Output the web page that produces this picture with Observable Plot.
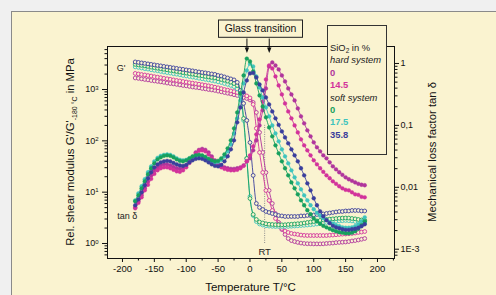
<!DOCTYPE html>
<html><head><meta charset="utf-8">
<script src="https://cdn.jsdelivr.net/npm/d3@7"></script>
<script src="https://cdn.jsdelivr.net/npm/@observablehq/plot@0.6"></script>
<style>
html,body{margin:0;padding:0;background:#f0f0f0;}
#wrap{position:relative;width:496px;height:295px;overflow:hidden;background:#f0f0f0;font-family:"Liberation Sans",Arial,sans-serif;}
#panel{position:absolute;left:11px;top:11px;width:600px;height:400px;background:#faf3d0;border:1px solid #8a8a8a;}
.layer{position:absolute;left:0;top:0;}
#legend{position:absolute;left:327px;top:25px;width:56px;height:112px;padding:16px 0 0 2px;border:1px solid #333;background:#faf3d0;font-size:9.4px;line-height:12.4px;color:#222;}
#legend .b{font-weight:bold;}
#legend sub{font-size:6.5px;vertical-align:-2px;line-height:0;}
</style></head>
<body><div id="wrap"><div id="panel"></div></div>
<script>
// ---- data ----
const temps = [-180,-175,-170,-165,-160,-155,-150,-145,-140,-135,-130,-125,-120,-115,-110,-105,-100,-95,-90,-85,-80,-75,-70,-65,-60,-55,-50,-45,-40,-35,-30,-25,-20,-15,-10,-5,0,5,10,15,20,25,30,35,40,45,50,55,60,65,70,75,80,85,90,95,100,105,110,115,120,125,130,135,140,145,150,155,160,165,170,175,180];

// Relative shear modulus G' (left axis, MPa)
const gHard0 = [1680,1650,1610,1570,1540,1500,1470,1440,1410,1380,1340,1310,1290,1260,1230,1200,1180,1150,1120,1100,1080,1050,1030,1000,982,960,930,902,874,847,821,792,767,733,701,670,627,561,358,146,59.4,24.2,10.8,6.02,3.84,2.57,1.87,1.50,1.25,1.14,1.09,1.05,1.02,1.00,0.99,0.987,0.982,0.982,0.982,0.987,1.00,1.01,1.02,1.04,1.05,1.06,1.07,1.09,1.12,1.14,1.17,1.21,1.25];
const gHard145 = [2060,2010,1960,1920,1870,1830,1780,1740,1700,1650,1620,1580,1540,1500,1470,1430,1400,1360,1330,1300,1270,1240,1210,1180,1150,1110,1080,1040,1000,973,939,910,877,839,802,750,686,513,175,59.4,24.2,10.8,6.89,4.40,3.07,2.35,1.96,1.75,1.64,1.57,1.53,1.50,1.46,1.44,1.43,1.43,1.43,1.43,1.43,1.43,1.43,1.45,1.46,1.48,1.50,1.52,1.53,1.55,1.57,1.60,1.64,1.67,1.71];
const gSoft0 = [3090,3020,2950,2890,2820,2730,2670,2600,2540,2480,2420,2360,2310,2250,2190,2140,2090,2040,1990,1940,1890,1850,1800,1760,1720,1680,1630,1570,1520,1460,1390,1310,1200,877,273,45.4,7.54,3.68,2.94,2.62,2.51,2.42,2.37,2.35,2.32,2.31,2.31,2.32,2.35,2.37,2.40,2.43,2.45,2.51,2.57,2.62,2.68,2.75,2.81,2.87,2.94,2.98,3.02,3.06,3.10,3.13,3.14,3.13,3.07,3.02,2.94,2.87,2.81];
const gSoft175 = [2760,2700,2630,2550,2500,2430,2370,2320,2250,2190,2140,2090,2030,1990,1940,1880,1840,1790,1750,1710,1660,1620,1580,1540,1500,1460,1410,1370,1310,1260,1200,1140,1030,733,250,45.4,8.25,3.51,2.68,2.40,2.29,2.22,2.18,2.16,2.14,2.14,2.14,2.14,2.15,2.17,2.19,2.21,2.24,2.26,2.29,2.32,2.35,2.40,2.45,2.51,2.57,2.62,2.68,2.72,2.75,2.78,2.81,2.78,2.75,2.68,2.62,2.57,2.51];
const gSoft358 = [3450,3380,3300,3230,3160,3090,3020,2950,2890,2820,2760,2700,2640,2580,2520,2470,2410,2360,2310,2250,2200,2150,2110,2060,2010,1970,1880,1840,1760,1680,1610,1540,1380,960,536,250,93,21.2,6.02,5.03,4.6,4.2,4.02,3.84,3.68,3.51,3.44,3.36,3.36,3.36,3.36,3.36,3.44,3.44,3.51,3.51,3.59,3.68,3.68,3.76,3.84,3.93,4.02,4.11,4.2,4.2,4.3,4.3,4.4,4.4,4.4,4.3,4.3];

// Mechanical loss factor tan delta (right axis)
const tanHard0 = [0.00476,0.00595,0.00743,0.00964,0.0125,0.0156,0.0188,0.021,0.0226,0.0235,0.0235,0.0226,0.0214,0.0203,0.0199,0.0206,0.0226,0.0263,0.031,0.0367,0.0403,0.0418,0.0403,0.0367,0.0316,0.0273,0.0239,0.0222,0.021,0.0203,0.0199,0.0199,0.0203,0.021,0.0226,0.0263,0.0294,0.0395,0.0573,0.1,0.175,0.395,0.895,1.04,0.928,0.8,0.64,0.512,0.395,0.316,0.253,0.188,0.14,0.108,0.0831,0.0665,0.0532,0.0442,0.0381,0.0328,0.0294,0.0253,0.0218,0.0195,0.0175,0.0159,0.0145,0.0135,0.0127,0.012,0.0114,0.011,0.0108];
const tanHard145 = [0.00459,0.00562,0.0069,0.00895,0.011,0.0137,0.0165,0.0188,0.0203,0.021,0.021,0.0203,0.0192,0.0181,0.0178,0.0188,0.021,0.0248,0.0299,0.0354,0.0388,0.0395,0.0381,0.0341,0.0294,0.0253,0.0226,0.021,0.0199,0.0192,0.0188,0.0188,0.0192,0.0203,0.0222,0.0263,0.0328,0.0459,0.0716,0.125,0.244,0.552,0.928,0.831,0.617,0.442,0.316,0.226,0.168,0.13,0.1,0.0771,0.0595,0.0476,0.0395,0.0328,0.0273,0.0235,0.0203,0.0178,0.0156,0.014,0.0125,0.0114,0.0104,0.00964,0.00911,0.00895,0.00831,0.00771,0.00757,0.00703,0.0069];
const tanSoft0 = [0.00595,0.00743,0.00964,0.0125,0.0162,0.0203,0.0244,0.0283,0.0305,0.0322,0.0328,0.0322,0.0305,0.0283,0.0268,0.0263,0.0273,0.0294,0.0316,0.0328,0.0334,0.0328,0.031,0.0288,0.0273,0.0263,0.0268,0.0294,0.0341,0.0426,0.0573,0.0895,0.162,0.328,0.64,1.2,1.08,0.743,0.476,0.305,0.202,0.135,0.0928,0.0665,0.0476,0.0354,0.0263,0.0203,0.0156,0.012,0.00964,0.00771,0.00617,0.00513,0.00426,0.00367,0.00316,0.00283,0.00258,0.00239,0.00226,0.00214,0.00203,0.00195,0.00188,0.00185,0.00181,0.00181,0.00185,0.00195,0.00214,0.00244,0.00283];
const tanSoft175 = [0.00617,0.008,0.0104,0.0135,0.0175,0.0218,0.0263,0.0299,0.0322,0.0334,0.0341,0.0334,0.0316,0.0294,0.0278,0.0273,0.0278,0.0294,0.031,0.0322,0.0328,0.0322,0.0305,0.0283,0.0263,0.0253,0.0258,0.0278,0.0316,0.0381,0.0494,0.0743,0.13,0.253,0.476,0.771,0.982,0.895,0.617,0.41,0.283,0.195,0.14,0.1,0.0743,0.0552,0.041,0.0316,0.0244,0.0188,0.0145,0.0116,0.00929,0.00743,0.00617,0.00513,0.00442,0.00388,0.00347,0.00316,0.00294,0.00273,0.00258,0.00244,0.00235,0.00226,0.00222,0.00222,0.00226,0.00235,0.00253,0.00283,0.00328];
const tanSoft358 = [0.00513,0.0064,0.00831,0.0108,0.014,0.0175,0.021,0.0235,0.0253,0.0263,0.0268,0.0263,0.0248,0.0235,0.0226,0.0222,0.0231,0.0253,0.0273,0.0288,0.0294,0.0288,0.0273,0.0253,0.0235,0.0222,0.0218,0.0231,0.0263,0.0316,0.041,0.0573,0.112,0.195,0.341,0.532,0.69,0.703,0.595,0.458,0.367,0.283,0.218,0.168,0.13,0.102,0.08,0.064,0.0513,0.041,0.0328,0.0263,0.0203,0.0156,0.0116,0.00895,0.00665,0.00513,0.0041,0.00341,0.00294,0.00263,0.00239,0.00226,0.00218,0.0021,0.00206,0.00206,0.0021,0.00214,0.00222,0.00235,0.00253];

const seriesLabels = ["0", "14.5", "0", "17.5", "35.8"];
const seriesGroups = ["hard system", "hard system", "soft system", "soft system", "soft system"];
const seriesColors = ["#b0359c", "#d2329b", "#17a05d", "#3fc4bd", "#3a3e9c"];

const xTickValues = [-200,-150,-100,-50,0,50,100,150,200];
const xMinorTicks = [-175,-125,-75,-25,25,75,125,175,225];
const leftTickValues = [1, 10, 100, 1000];
const rightTickValues = [0.001, 0.01, 0.1, 1];
const rightTickLabels = ["1E-3", "0,01", "0,1", "1"];
const glassT = [-4, 31];
const rtT = [23];

// ---- layout ----
const PANEL = "#faf3d0";
const W = 496, H = 295;
const M = {left: 107, right: 102, top: 46, bottom: 37};
const xDomain = [-223.5, 226.7];
const font = {fontFamily: "Liberation Sans, Arial, sans-serif", fontSize: "9px", background: "transparent", color: "#111", overflow: "visible"};

const gSets = [gHard0, gHard145, gSoft0, gSoft175, gSoft358];
const tSets = [tanHard0, tanHard145, tanSoft0, tanSoft175, tanSoft358];
const rowsOf = arr => temps.map((T, i) => ({T, v: arr[i]}));

const minorLog = (lo, hi) => [-4,-3,-2,-1,0,1,2,3].flatMap(k => [2,3,4,5,6,7,8,9].map(m => m * Math.pow(10, k))).filter(v => v > lo && v < hi);

const gMarks = [];
const drawOrder = [0, 1, 3, 2, 4];
for (const s of drawOrder) {
  const rows = rowsOf(gSets[s]);
  gMarks.push(Plot.line(rows, {x: "T", y: "v", stroke: seriesColors[s], strokeWidth: 0.9, curve: "monotone-x"}));
  gMarks.push(Plot.dot(rows, {x: "T", y: "v", r: 1.9, stroke: seriesColors[s], strokeWidth: 0.9, fill: PANEL}));
}
const tMarks = [];
for (const s of drawOrder) {
  const rows = rowsOf(tSets[s]);
  tMarks.push(Plot.line(rows, {x: "T", y: "v", stroke: seriesColors[s], strokeWidth: 0.9, curve: "monotone-x"}));
  tMarks.push(Plot.dot(rows, {x: "T", y: "v", r: 1.9, fill: seriesColors[s], stroke: seriesColors[s], strokeWidth: 0.4}));
}

const plot1 = Plot.plot({
  width: W, height: H,
  marginLeft: M.left, marginRight: M.right, marginTop: M.top, marginBottom: M.bottom,
  style: font,
  x: {domain: xDomain},
  y: {type: "log", domain: [0.51, 6890]},
  marks: [
    Plot.ruleX(rtT, {x: d => d, y1: 1, y2: 200, stroke: "#8a8a8a", strokeWidth: 1, strokeDasharray: "1,1.3"}),
    Plot.text(["RT"], {x: rtT[0], y: 1, dy: 8, text: d => d, fontSize: 9.5, fill: "#222"}),
    Plot.text(["G'"], {x: temps[0], y: gSoft175[0], dx: -14, dy: 1, text: d => d, fontSize: 9, fill: "#222"}),
    ...gMarks,
    Plot.frame({stroke: "#111"}),
    Plot.axisX({ticks: xTickValues, tickSize: 4, tickPadding: 3, tickFormat: d => String(d), label: null, fontSize: 9.5}),
    Plot.axisX({ticks: xMinorTicks.filter(v => v <= xDomain[1]), tickSize: 2.5, tickFormat: () => "", label: null}),
    Plot.axisY({ticks: leftTickValues, tickSize: 5, tickPadding: 4, tickFormat: d => "10^" + Math.round(Math.log10(d)), label: null, fontSize: 9}),
    Plot.axisY({ticks: minorLog(0.51, 6890), tickSize: 2.5, tickFormat: () => "", label: null})
  ]
});

const plot2 = Plot.plot({
  width: W, height: H,
  marginLeft: M.left, marginRight: M.right, marginTop: M.top, marginBottom: M.bottom,
  style: font,
  x: {domain: xDomain, axis: null},
  y: {type: "log", domain: [0.000708, 1.88]},
  marks: [
    Plot.text(["tan δ"], {x: temps[0], y: tanHard0[0], dx: -8, dy: 9, text: d => d, fontSize: 9, fill: "#222"}),
    ...tMarks,
    Plot.axisY({anchor: "right", ticks: rightTickValues, tickSize: 4, tickPadding: 2, tickFormat: d => rightTickLabels[rightTickValues.indexOf(d)], label: null, fontSize: 9}),
    Plot.axisY({anchor: "right", ticks: minorLog(0.000708, 1.88), tickSize: 2.5, tickFormat: () => "", label: null})
  ]
});

const wrap = document.getElementById("wrap");
for (const p of [plot1, plot2]) { p.classList.add("layer"); p.style.position = "absolute"; p.style.left = "0"; p.style.top = "0"; wrap.appendChild(p); }

// superscript exponents on the left axis labels
d3.select(plot1).selectAll("text").each(function () {
  const m = /^10\^(-?\d+)$/.exec(this.textContent);
  if (m) {
    const t = d3.select(this); t.text("");
    t.append("tspan").text("10");
    t.append("tspan").attr("dy", "-0.45em").attr("font-size", "6px").text(m[1]);
  }
});

// axis titles and annotations
const svg1 = d3.select(plot1);
const titleFont = "11.3px";
svg1.append("text").attr("x", M.left + (W - M.left - M.right) / 2).attr("y", 290.5)
  .attr("text-anchor", "middle").attr("font-size", "11.5px").attr("fill", "#111").text("Temperature T/°C");
const lt = svg1.append("text").attr("transform", `translate(74,${M.top + (H - M.top - M.bottom) / 2}) rotate(-90)`)
  .attr("text-anchor", "middle").attr("font-size", titleFont).attr("fill", "#111");
lt.append("tspan").text("Rel. shear modulus G'/G'");
lt.append("tspan").attr("dy", 3).attr("font-size", "7px").text("-180 °C");
lt.append("tspan").attr("dy", -3).text(" in MPa");
svg1.append("text").attr("transform", `translate(436,${M.top + (H - M.top - M.bottom) / 2}) rotate(-90)`)
  .attr("text-anchor", "middle").attr("font-size", titleFont).attr("fill", "#111").text("Mechanical loss factor tan δ");

const xs = plot1.scale("x");
const gt = svg1.append("g");
gt.append("rect").attr("x", 218.5).attr("y", 20).attr("width", 84).attr("height", 17.3)
  .attr("fill", PANEL).attr("stroke", "#222").attr("stroke-width", 1);
gt.append("text").attr("x", 260.5).attr("y", 32.4).attr("text-anchor", "middle").attr("font-size", "10.4px").attr("fill", "#111").text("Glass transition");
for (const t of glassT) {
  const X = xs.apply(t);
  gt.append("line").attr("x1", X).attr("x2", X).attr("y1", 38.5).attr("y2", 48).attr("stroke", "#111").attr("stroke-width", 1);
  gt.append("path").attr("d", `M${X - 2.2},47.5L${X + 2.2},47.5L${X},53Z`).attr("fill", "#111");
}

// legend
const legend = d3.select(wrap).append("div").attr("id", "legend");
legend.append("div").html("SiO<sub>2</sub> in %");
let lastGroup = null;
seriesLabels.forEach((lab, i) => {
  if (seriesGroups[i] !== lastGroup) { legend.append("div").append("i").text(seriesGroups[i]); lastGroup = seriesGroups[i]; }
  legend.append("div").attr("class", "b").style("color", seriesColors[i]).text(lab);
});
</script>
</body></html>
